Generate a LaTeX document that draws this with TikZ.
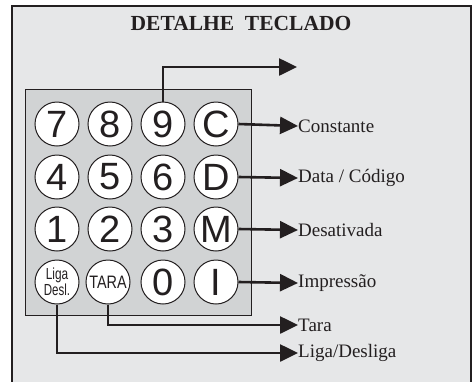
\documentclass[tikz,border=0pt]{standalone}
\usepackage{fontspec}
\usepackage{graphicx}
\setmainfont{Liberation Serif}
\newfontfamily\keyfont{Liberation Sans}
\usetikzlibrary{arrows.meta}
\definecolor{panel}{HTML}{E6E7E8}
\definecolor{pad}{HTML}{D1D3D4}
\definecolor{ink}{HTML}{231F20}
\tikzset{
  keybtn/.style={circle,draw=ink,line width=1pt,fill=white,minimum size=44pt,inner sep=0pt,
    font=\keyfont\fontsize{38}{38}\selectfont,text=ink},
  lbl/.style={anchor=west,inner sep=0pt,font=\fontsize{19}{19}\selectfont,text=ink},
  conn/.style={draw=ink,line width=2.6pt,-{Triangle[length=18pt,width=17pt]}},
}
\begin{document}
\begin{tikzpicture}[x=1pt,y=-1pt]
\useasboundingbox (0,0) rectangle (474,381);
\fill[white] (0,0) rectangle (474,381);
\fill[panel] (12,6) rectangle (471,385);
\draw[ink,line width=1.6pt] (12,385) -- (12,6) -- (471,6) -- (471,385);
\node[font=\bfseries\fontsize{21.5}{21.5}\selectfont,text=ink] (title) at (241,23) {DETALHE\ \ TECLADO};
\node[draw=ink,line width=1.2pt,fill=pad,minimum width=226pt,minimum height=226pt,inner sep=0pt,anchor=north west] (pad) at (25,89) {};
% keys
\node[keybtn] (k7) at (57,124) {7};
\node[keybtn] (k8) at (110,124) {8};
\node[keybtn] (k9) at (163,124) {9};
\node[keybtn] (kC) at (216,124) {C};
\node[keybtn] (k4) at (57,177) {4};
\node[keybtn] (k5) at (110,177) {5};
\node[keybtn] (k6) at (163,177) {6};
\node[keybtn] (kD) at (216,177) {D};
\node[keybtn] (k1) at (57,229) {1};
\node[keybtn] (k2) at (110,229) {2};
\node[keybtn] (k3) at (163,229) {3};
\node[keybtn] (kM) at (216,229) {M};
\node[keybtn,font=\keyfont\fontsize{16}{12.5}\selectfont,align=center] (kL) at (57,282)
  {\scalebox{0.74}[1]{Liga}\\\scalebox{0.72}[1]{Desl.}};
\node[keybtn,font=\keyfont\fontsize{18}{18}\selectfont] (kT) at (108,282) {\scalebox{0.8}[1]{TARA}};
\node[keybtn] (k0) at (163,282) {0};
\node[keybtn] (kI) at (216,282) {I};
% labels
\node[lbl] (lC) at (298,126) {Constante};
\node[lbl] (lD) at (298,178) {Data / Código};
\node[lbl] (lM) at (298,230) {Desativada};
\node[lbl] (lI) at (298,283) {Impressão};
\node[lbl] (lT) at (298,325) {Tara};
\node[lbl] (lL) at (298,353) {Liga/Desliga};
\coordinate (top) at (297,67);
% connectors
\draw[conn] (k9.north) |- (top);
\draw[conn] (kC.east) -- (lC.west);
\draw[conn] (kD.east) -- (lD.west);
\draw[conn] (kM.east) -- (lM.west);
\draw[conn] (kI.east) -- (lI.west);
\draw[conn] (kT.south) |- (lT.west);
\draw[conn] (kL.south) |- (lL.west);
\end{tikzpicture}
\end{document}
